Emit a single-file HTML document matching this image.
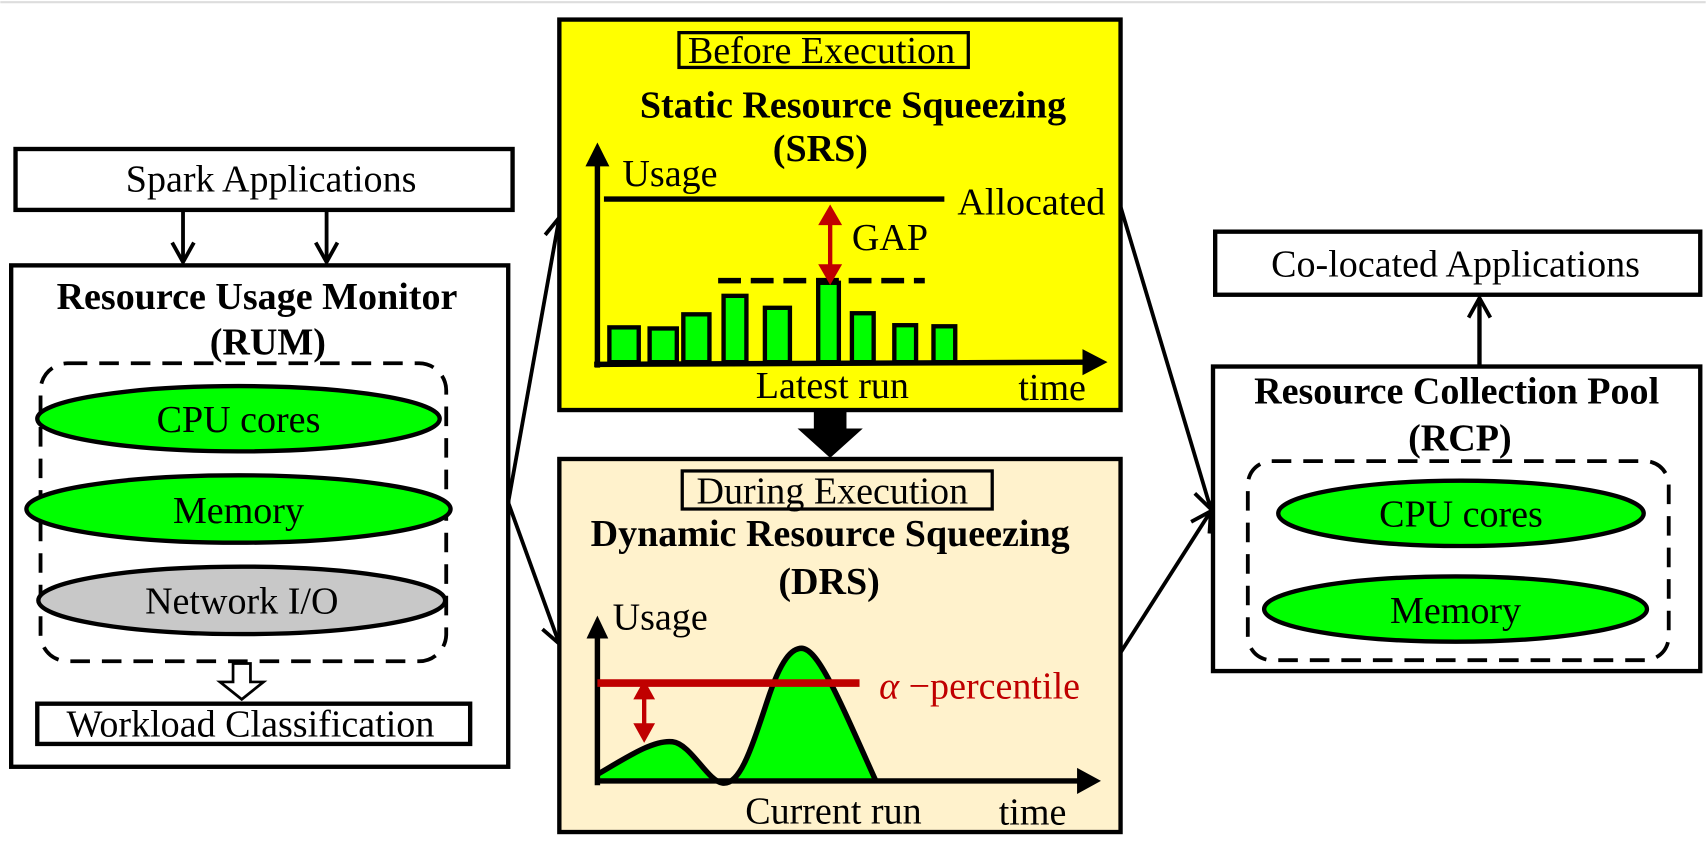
<!DOCTYPE html>
<html><head><meta charset="utf-8"><style>html,body{margin:0;padding:0;background:#fff}svg{display:block}</style></head>
<body>
<svg width="1706" height="844" viewBox="0 0 1568 776" xmlns="http://www.w3.org/2000/svg" font-family="Liberation Serif, serif" font-size="35">
<defs>
<marker id="open2" markerWidth="24" markerHeight="24" refX="20" refY="12" orient="auto" markerUnits="userSpaceOnUse" viewBox="0 0 24 24"><path d="M2,2 L20,12 L2,22" fill="none" stroke="#000" stroke-width="3.5"/></marker>
</defs>
<line x1="0" y1="2" x2="1568" y2="2" stroke="#ddd" stroke-width="2"/>
<!-- Left -->
<rect x="14" y="137" width="457" height="56" fill="#fff" stroke="#000" stroke-width="4"/>
<text x="249" y="176" text-anchor="middle">Spark Applications</text>
<line x1="168" y1="193" x2="168" y2="241" stroke="#000" stroke-width="3.5" marker-end="url(#open2)"/>
<line x1="300" y1="193" x2="300" y2="241" stroke="#000" stroke-width="3.5" marker-end="url(#open2)"/>
<rect x="10" y="244" width="457" height="461" fill="#fff" stroke="#000" stroke-width="4"/>
<text x="236" y="284" font-weight="bold" text-anchor="middle">Resource Usage Monitor</text>
<text x="246" y="326" font-weight="bold" text-anchor="middle">(RUM)</text>
<rect x="37" y="334" width="373" height="274" rx="25" fill="none" stroke="#000" stroke-width="3.5" stroke-dasharray="18,11"/>
<ellipse cx="219" cy="385" rx="185" ry="30" fill="#00ff00" stroke="#000" stroke-width="4"/>
<text x="219" y="397" text-anchor="middle">CPU cores</text>
<ellipse cx="219" cy="468" rx="195" ry="31" fill="#00ff00" stroke="#000" stroke-width="4"/>
<text x="219" y="481" text-anchor="middle">Memory</text>
<ellipse cx="222" cy="552" rx="187" ry="31" fill="#c8c8c8" stroke="#000" stroke-width="4"/>
<text x="222" y="564" text-anchor="middle">Network I/O</text>
<path d="M214,610 L230,610 L230,627 L242,627 L222,643 L202,627 L214,627 Z" fill="#fff" stroke="#000" stroke-width="2.5"/>
<rect x="34" y="647" width="398" height="37" fill="#fff" stroke="#000" stroke-width="4"/>
<text x="230" y="677" text-anchor="middle">Workload Classification</text>
<line x1="467" y1="462" x2="514" y2="200" stroke="#000" stroke-width="3.5" marker-end="url(#open2)"/>
<line x1="467" y1="462" x2="514" y2="592" stroke="#000" stroke-width="3.5" marker-end="url(#open2)"/>
<!-- SRS -->
<rect x="514" y="18" width="516" height="359" fill="#ffff00" stroke="#000" stroke-width="4"/>
<rect x="624" y="30" width="266" height="32" fill="none" stroke="#000" stroke-width="3"/>
<text x="755" y="58" text-anchor="middle">Before Execution</text>
<text x="784" y="108" font-weight="bold" text-anchor="middle">Static Resource Squeezing</text>
<text x="754" y="148" font-weight="bold" text-anchor="middle">(SRS)</text>
<line x1="549" y1="338" x2="549" y2="150" stroke="#000" stroke-width="5"/>
<path d="M538,153 L549,131 L560,153 Z"/>
<line x1="546" y1="335" x2="998" y2="333" stroke="#000" stroke-width="5"/>
<path d="M995,321 L1018,333 L995,345 Z"/>
<text x="572" y="171">Usage</text>
<line x1="555" y1="183" x2="868" y2="183" stroke="#000" stroke-width="5"/>
<text x="880" y="197">Allocated</text>
<line x1="660" y1="258" x2="850" y2="258" stroke="#000" stroke-width="5" stroke-dasharray="21,9"/>
<g fill="#00ff00" stroke="#000" stroke-width="4">
<rect x="560" y="301" width="27" height="32"/><rect x="597" y="302" width="25" height="31"/><rect x="628" y="289" width="24" height="44"/><rect x="665" y="272" width="21" height="61"/><rect x="703" y="283" width="23" height="50"/><rect x="752" y="260" width="19" height="73"/><rect x="783" y="288" width="20" height="45"/><rect x="822" y="299" width="20" height="34"/><rect x="858" y="300" width="20" height="33"/>
</g>
<line x1="763" y1="205" x2="763" y2="245" stroke="#c00000" stroke-width="4"/>
<path d="M752,207 L763,188 L774,207 Z M752,243 L763,262 L774,243 Z" fill="#c00000"/>
<text x="783" y="230">GAP</text>
<text x="765" y="366" text-anchor="middle">Latest run</text>
<text x="936" y="368">time</text>
<!-- big arrow -->
<path d="M748,377 L778,377 L778,394 L793,394 L763,421 L733,394 L748,394 Z"/>
<!-- DRS -->
<rect x="514" y="422" width="516" height="343" fill="#fff2cc" stroke="#000" stroke-width="4"/>
<rect x="627" y="433" width="285" height="35" fill="none" stroke="#000" stroke-width="3"/>
<text x="765" y="463" text-anchor="middle">During Execution</text>
<text x="763" y="502" font-weight="bold" text-anchor="middle">Dynamic Resource Squeezing</text>
<text x="762" y="546" font-weight="bold" text-anchor="middle">(DRS)</text>
<path d="M549,712 C575,697 600,680 618,682 C635,684 650,718 664,720 C680,722 690,690 705,645 C718,605 728,596 737,596 C752,597 770,640 805,718 L549,718 Z" fill="#00ff00" stroke="none"/>
<path d="M549,712 C575,697 600,680 618,682 C635,684 650,718 664,720 C680,722 690,690 705,645 C718,605 728,596 737,596 C752,597 770,640 805,718" fill="none" stroke="#000" stroke-width="5" stroke-linejoin="round"/>
<line x1="549" y1="722" x2="549" y2="585" stroke="#000" stroke-width="5"/>
<path d="M539,587 L549,566 L559,587 Z"/>
<line x1="547" y1="718" x2="992" y2="718" stroke="#000" stroke-width="5"/>
<path d="M990,706 L1012,718 L990,730 Z"/>
<text x="563" y="579">Usage</text>
<line x1="549" y1="628" x2="790" y2="628" stroke="#c00000" stroke-width="7"/>
<line x1="592" y1="640" x2="592" y2="668" stroke="#c00000" stroke-width="4"/>
<path d="M582,643 L592,625 L602,643 Z M582,665 L592,683 L602,665 Z" fill="#c00000"/>
<text x="808" y="642" fill="#c00000"><tspan font-style="italic">α</tspan> −percentile</text>
<text x="766" y="757" text-anchor="middle">Current run</text>
<text x="918" y="758">time</text>
<!-- right -->
<line x1="1030" y1="190" x2="1113" y2="468" stroke="#000" stroke-width="3.5" marker-end="url(#open2)"/>
<line x1="1030" y1="600" x2="1113" y2="470" stroke="#000" stroke-width="3.5" marker-end="url(#open2)"/>
<rect x="1117" y="213" width="446" height="58" fill="#fff" stroke="#000" stroke-width="4"/>
<text x="1338" y="254" text-anchor="middle">Co-located Applications</text>
<line x1="1360" y1="337" x2="1360" y2="274" stroke="#000" stroke-width="4" marker-end="url(#open2)"/>
<rect x="1115" y="337" width="448" height="280" fill="#fff" stroke="#000" stroke-width="4"/>
<text x="1339" y="371" font-weight="bold" text-anchor="middle">Resource Collection Pool</text>
<text x="1342" y="414" font-weight="bold" text-anchor="middle">(RCP)</text>
<rect x="1147" y="424" width="387" height="183" rx="22" fill="none" stroke="#000" stroke-width="3.5" stroke-dasharray="18,11"/>
<ellipse cx="1343" cy="472" rx="168" ry="30" fill="#00ff00" stroke="#000" stroke-width="4"/>
<text x="1343" y="484" text-anchor="middle">CPU cores</text>
<ellipse cx="1338" cy="560" rx="176" ry="30" fill="#00ff00" stroke="#000" stroke-width="4"/>
<text x="1338" y="573" text-anchor="middle">Memory</text>
</svg>
</body></html>
